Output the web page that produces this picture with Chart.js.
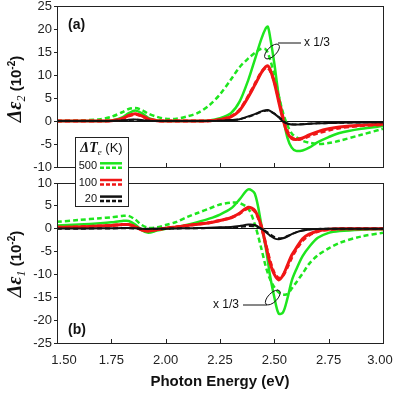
<!DOCTYPE html>
<html>
<head>
<meta charset="utf-8">
<script src="https://cdn.jsdelivr.net/npm/chart.js@4.4.1/dist/chart.umd.min.js"></script>
<style>
  html, body { margin: 0; padding: 0; background: #fff; }
  #wrap { position: relative; width: 393px; height: 393px; overflow: hidden; }
  #chartA { position: absolute; left: 0; top: 0; }
  #chartB { position: absolute; left: 0; top: 130px; }
</style>
</head>
<body>
<div id="wrap">
  <canvas id="chartA" width="393" height="175"></canvas>
  <canvas id="chartB" width="393" height="263"></canvas>
</div>
<script>
// photon energy grid (eV), shared by all curves
const energy = [1.50, 1.60, 1.70, 1.75, 1.80, 1.83, 1.86, 1.89, 1.92, 1.96,
  2.00, 2.05, 2.10, 2.15, 2.20, 2.25,
  2.30, 2.34, 2.38, 2.41, 2.44, 2.46, 2.47, 2.48, 2.50, 2.52, 2.54,
  2.56, 2.58, 2.60, 2.63, 2.66, 2.70, 2.75, 2.80, 2.90, 3.00];

// panel (a): delta eps2, units of 1e-2 (500 K already x 1/3)
const eps2Solid500 = [0, 0, 0, 0.1, 0.8, 1.7, 2.3, 1.7, 0.7, 0.1,
  0, 0, 0, 0, 0.1, 0.6,
  1.7, 4.2, 8.9, 13.3, 17.8, 20.1, 20.5, 18.4, 12.5, 5.5, 0.8,
  -3.6, -5.8, -6.5, -6.4, -5.8, -4.6, -3.5, -2.6, -1.7, -1.1];
const eps2Dash500 = [0, 0.1, 0.4, 0.9, 1.9, 2.6, 2.8, 2.4, 1.6, 0.9,
  0.5, 0.5, 1.0, 1.8, 3.4, 5.8,
  9.0, 11.7, 13.6, 14.8, 15.7, 15.6, 14.8, 13.5, 10.0, 5.6, 1.8,
  -0.9, -2.7, -3.5, -4.3, -4.7, -5.0, -4.8, -4.3, -3.0, -1.7];
const eps2Solid100 = [0, 0, 0, 0.05, 0.5, 1.2, 1.6, 1.1, 0.4, 0.05,
  0, 0, 0, 0, 0.05, 0.3,
  0.9, 2.3, 5.2, 7.8, 10.5, 11.8, 12.0, 11.3, 8.3, 4.2, 0.3,
  -2.6, -3.8, -4.0, -3.7, -3.0, -2.3, -1.7, -1.3, -0.9, -0.7];
const eps2Dash100 = [0, 0, 0, 0.05, 0.5, 1.1, 1.5, 1.1, 0.5, 0.1,
  0, 0, 0, 0, 0.05, 0.35,
  1.0, 2.4, 5.4, 8.0, 10.6, 11.6, 11.5, 11.0, 8.6, 4.8, 0.8,
  -2.2, -3.6, -4.0, -3.8, -3.3, -2.6, -2.0, -1.5, -1.0, -0.8];
const eps2Solid20 = [0, 0, 0, 0, 0.1, 0.25, 0.3, 0.2, 0.05, 0,
  0, 0, 0, 0, 0, 0.05,
  0.2, 0.4, 1.0, 1.5, 2.1, 2.35, 2.4, 2.2, 1.6, 0.8, -0.1,
  -0.6, -0.75, -0.75, -0.7, -0.6, -0.5, -0.45, -0.4, -0.3, -0.25];
const eps2Dash20 = [0, 0, 0, 0, 0.1, 0.2, 0.25, 0.2, 0.05, 0,
  0, 0, 0, 0, 0, 0.05,
  0.2, 0.4, 0.9, 1.4, 2.0, 2.25, 2.25, 2.1, 1.6, 0.9, 0.1,
  -0.5, -0.7, -0.75, -0.7, -0.6, -0.5, -0.45, -0.4, -0.3, -0.25];

// panel (b): delta eps1, units of 1e-2
const eps1Solid500 = [0.7, 0.9, 1.2, 1.4, 1.7, 1.7, 0.9, -0.3, -0.9, -0.4,
  0.0, 0.4, 0.9, 1.5, 2.2, 3.1,
  4.4, 6.4, 8.6, 7.7, 1.0, -4.0, -7.0, -10.2, -15.0, -18.6, -18.3,
  -15.3, -11.4, -9.0, -6.0, -4.0, -2.0, -0.9, -0.5, -0.2, -0.1];
const eps1Dash500 = [1.5, 1.9, 2.3, 2.5, 2.8, 2.8, 2.0, 0.8, 0.2, 0.3,
  0.8, 1.5, 2.6, 3.5, 4.4, 5.3,
  5.7, 5.6, 4.4, 1.0, -4.3, -8.2, -9.7, -11.0, -12.8, -13.9, -14.4,
  -14.3, -13.1, -11.8, -9.8, -7.7, -5.8, -4.3, -3.1, -1.7, -0.9];
const eps1Solid100 = [0.3, 0.4, 0.6, 0.7, 0.9, 0.9, 0.4, -0.3, -0.5, -0.2,
  0.1, 0.4, 0.7, 1.0, 1.3, 1.8,
  2.4, 3.4, 4.7, 4.0, 0.6, -3.4, -5.5, -7.5, -10.0, -11.2, -10.2,
  -8.0, -5.8, -4.3, -2.2, -1.2, -0.5, -0.1, 0, 0, 0];
const eps1Dash100 = [0.3, 0.4, 0.6, 0.7, 0.9, 0.9, 0.5, -0.2, -0.5, -0.2,
  0.1, 0.4, 0.7, 1.0, 1.3, 1.8,
  2.4, 3.3, 4.5, 3.8, 0.5, -3.3, -5.2, -7.0, -9.7, -10.8, -10.2,
  -8.4, -6.3, -4.6, -2.6, -1.4, -0.6, -0.2, -0.05, 0, 0];
const eps1Solid20 = [0.05, 0.05, 0.1, 0.1, 0.15, 0.15, 0.1, 0, -0.05, 0,
  0, 0.05, 0.1, 0.15, 0.2, 0.3,
  0.4, 0.6, 0.9, 0.8, 0.0, -0.7, -1.1, -1.5, -2.1, -2.3, -2.1,
  -1.7, -1.2, -0.8, -0.4, -0.15, -0.05, 0, 0, 0, 0];
const eps1Dash20 = [0, 0, 0.05, 0.05, 0.1, 0.1, 0.05, 0, 0, 0,
  0, 0.05, 0.1, 0.1, 0.15, 0.2,
  0.3, 0.4, 0.6, 0.5, 0.0, -0.5, -0.85, -1.2, -1.8, -2.1, -2.0,
  -1.6, -1.2, -0.8, -0.4, -0.15, -0.05, 0, 0, 0, 0];

// axes
const xTickValues = [1.50, 1.75, 2.00, 2.25, 2.50, 2.75, 3.00];
const xTickLabels = ["1.50", "1.75", "2.00", "2.25", "2.50", "2.75", "3.00"];
const yRangeA = [-10, 25];
const yRangeB = [-25, 10];
const tempLabels = ["500", "100", "20"];

const GREEN = "#1ee61e";
const RED = "#f01616";
const BLACK = "#111111";
const SANS = '"Liberation Sans", Arial, sans-serif';
const SERIF = '"Liberation Serif", "Times New Roman", serif';

function series(values, color, dashed, width) {
  return {
    data: energy.map((e, i) => ({ x: e, y: values[i] })),
    borderColor: color,
    borderWidth: width,
    borderDash: dashed ? [5, 3] : [],
    pointRadius: 0,
    tension: 0.3,
    fill: false
  };
}

// rotated y title made of several text runs (Δε subscript, 10^-2)
function drawYTitle(ctx, cx, cy, sub) {
  const parts = [
    { t: "\u0394\u03b5", f: "italic bold 20px " + SERIF, dy: 0 },
    { t: sub, f: "italic 12px " + SERIF, dy: 4 },
    { t: " (10", f: "bold 15px " + SANS, dy: 0 },
    { t: "-2", f: "bold 10px " + SANS, dy: -6 },
    { t: ")", f: "bold 15px " + SANS, dy: 0 }
  ];
  ctx.save();
  ctx.translate(cx, cy);
  ctx.rotate(-Math.PI / 2);
  ctx.fillStyle = "#111";
  ctx.textBaseline = "alphabetic";
  let total = 0;
  parts.forEach(p => { ctx.font = p.f; p.w = ctx.measureText(p.t).width; total += p.w; });
  let x = -total / 2;
  parts.forEach(p => { ctx.font = p.f; ctx.fillText(p.t, x, 6 + p.dy); x += p.w; });
  ctx.restore();
}

function drawScaleNote(ctx, ex, ey, lineFrom, lineTo, ly, textX, align) {
  ctx.save();
  ctx.strokeStyle = "#111";
  ctx.lineWidth = 1;
  ctx.beginPath();
  ctx.ellipse(ex, ey, 9.5, 4.5, -Math.PI / 4, 0, Math.PI * 2);
  ctx.stroke();
  ctx.beginPath();
  ctx.moveTo(lineFrom, ly);
  ctx.lineTo(lineTo, ly);
  ctx.stroke();
  ctx.fillStyle = "#111";
  ctx.font = "12px " + SANS;
  ctx.textAlign = align;
  ctx.textBaseline = "middle";
  ctx.fillText("x 1/3", textX, ly);
  ctx.restore();
}

// frame + inward x ticks, shared by both panels
const framePlugin = {
  id: "frame",
  afterDraw(chart) {
    const { ctx, chartArea: a, scales } = chart;
    ctx.save();
    ctx.strokeStyle = "#222";
    ctx.lineWidth = 1;
    ctx.strokeRect(a.left + 0.5, a.top + 0.5, a.right - a.left, a.bottom - a.top);
    ctx.beginPath();
    xTickValues.slice(1, -1).forEach(v => {
      const px = Math.round(scales.x.getPixelForValue(v)) + 0.5;
      ctx.moveTo(px, a.bottom);
      ctx.lineTo(px, a.bottom - 4);
    });
    ctx.stroke();
    ctx.restore();
  }
};

const overlayA = {
  id: "overlayA",
  afterDraw(chart) {
    const ctx = chart.ctx;
    drawYTitle(ctx, 15, 89, "2");
    ctx.save();
    ctx.font = "bold 14px " + SANS;
    ctx.fillStyle = "#111";
    ctx.textBaseline = "middle";
    ctx.fillText("(a)", 68, 25);
    ctx.restore();
    drawScaleNote(ctx, 272, 51.5, 278, 301, 43, 304, "left");
  }
};

const overlayB = {
  id: "overlayB",
  afterDraw(chart) {
    const { ctx, chartArea: a, scales } = chart;
    drawYTitle(ctx, 15, 134, "1");
    ctx.save();
    ctx.font = "bold 14px " + SANS;
    ctx.fillStyle = "#111";
    ctx.textBaseline = "middle";
    ctx.fillText("(b)", 68, 200);

    // x tick labels (end labels pulled inward as in the figure)
    ctx.font = "13px " + SANS;
    ctx.fillStyle = "#222";
    ctx.textAlign = "center";
    xTickLabels.forEach((lab, i) => {
      let px = scales.x.getPixelForValue(xTickValues[i]);
      if (i === 0) px += 7;
      if (i === xTickLabels.length - 1) px -= 3;
      ctx.fillText(lab, px, a.bottom + 17);
    });
    ctx.restore();

    drawScaleNote(ctx, 272.8, 167.5, 243, 267, 175, 239, "right");

    // legend box spanning both panels
    ctx.save();
    ctx.fillStyle = "#fff";
    ctx.fillRect(75, 7, 53, 69);
    ctx.strokeStyle = "#222";
    ctx.lineWidth = 1;
    ctx.strokeRect(75.5, 7.5, 53, 69);
    ctx.fillStyle = "#111";
    ctx.textBaseline = "alphabetic";
    const title = [
      { t: "\u0394T", f: "italic bold 14px " + SERIF, dy: 0 },
      { t: "e", f: "italic 9px " + SERIF, dy: 3 },
      { t: " (K)", f: "13px " + SANS, dy: 0 }
    ];
    let tw = 0;
    title.forEach(p => { ctx.font = p.f; p.w = ctx.measureText(p.t).width; tw += p.w; });
    let tx = 101.5 - tw / 2;
    title.forEach(p => { ctx.font = p.f; ctx.fillText(p.t, tx, 22 + p.dy); tx += p.w; });

    const colors = [GREEN, RED, BLACK];
    const rowY = [36, 52.7, 69.3];
    ctx.font = "11px " + SANS;
    ctx.textAlign = "right";
    ctx.textBaseline = "middle";
    tempLabels.forEach((lab, i) => {
      ctx.fillStyle = "#111";
      ctx.fillText(lab, 97, rowY[i]);
      ctx.strokeStyle = colors[i];
      ctx.lineWidth = 2.5;
      ctx.setLineDash([]);
      ctx.beginPath();
      ctx.moveTo(100, rowY[i] - 2.7);
      ctx.lineTo(122, rowY[i] - 2.7);
      ctx.stroke();
      ctx.setLineDash([4, 2]);
      ctx.beginPath();
      ctx.moveTo(100, rowY[i] + 1.7);
      ctx.lineTo(122, rowY[i] + 1.7);
      ctx.stroke();
    });
    ctx.restore();
  }
};

function yAxis(range) {
  return {
    min: range[0],
    max: range[1],
    ticks: { stepSize: 5, padding: 2, color: "#222", font: { family: SANS, size: 13 } },
    grid: {
      color: c => (c.tick && c.tick.value === 0 ? "#111" : "rgba(0,0,0,0)"),
      tickColor: "#222",
      tickLength: 3,
      lineWidth: 1
    },
    border: { display: false },
    afterFit: s => { s.width = 57; s.paddingTop = 0; s.paddingBottom = 0; }
  };
}

function xAxis(height, withTitle) {
  return {
    type: "linear",
    min: 1.5,
    max: 3.0,
    ticks: { display: false, stepSize: 0.25 },
    grid: { display: false },
    border: { display: false },
    title: {
      display: withTitle,
      text: "Photon Energy (eV)",
      color: "#111",
      font: { family: SANS, size: 15, weight: "bold" },
      padding: { top: 0, bottom: 2 }
    },
    afterFit: s => { s.height = height; s.paddingLeft = 0; s.paddingRight = 0; }
  };
}

function baseOptions(padTop, xHeight, yRange, withTitle) {
  return {
    responsive: false,
    animation: false,
    layout: { padding: { top: padTop, right: 10, left: 0, bottom: 0 } },
    plugins: { legend: { display: false }, tooltip: { enabled: false } },
    scales: { x: xAxis(xHeight, withTitle), y: yAxis(yRange) }
  };
}

document.addEventListener("DOMContentLoaded", function () {
  new Chart(document.getElementById("chartA").getContext("2d"), {
    type: "line",
    data: {
      datasets: [
        series(eps2Dash20, BLACK, true, 2),
        series(eps2Solid20, BLACK, false, 2),
        series(eps2Dash100, RED, true, 3),
        series(eps2Solid100, RED, false, 3),
        series(eps2Solid500, GREEN, false, 2.5),
        series(eps2Dash500, GREEN, true, 2.5)
      ]
    },
    options: baseOptions(6, 8, yRangeA, false),
    plugins: [framePlugin, overlayA]
  });

  new Chart(document.getElementById("chartB").getContext("2d"), {
    type: "line",
    data: {
      datasets: [
        series(eps1Dash20, BLACK, true, 2),
        series(eps1Solid20, BLACK, false, 2),
        series(eps1Dash100, RED, true, 3),
        series(eps1Solid100, RED, false, 3),
        series(eps1Solid500, GREEN, false, 2.5),
        series(eps1Dash500, GREEN, true, 2.5)
      ]
    },
    options: baseOptions(53, 50, yRangeB, true),
    plugins: [framePlugin, overlayB]
  });
});
</script>
</body>
</html>
